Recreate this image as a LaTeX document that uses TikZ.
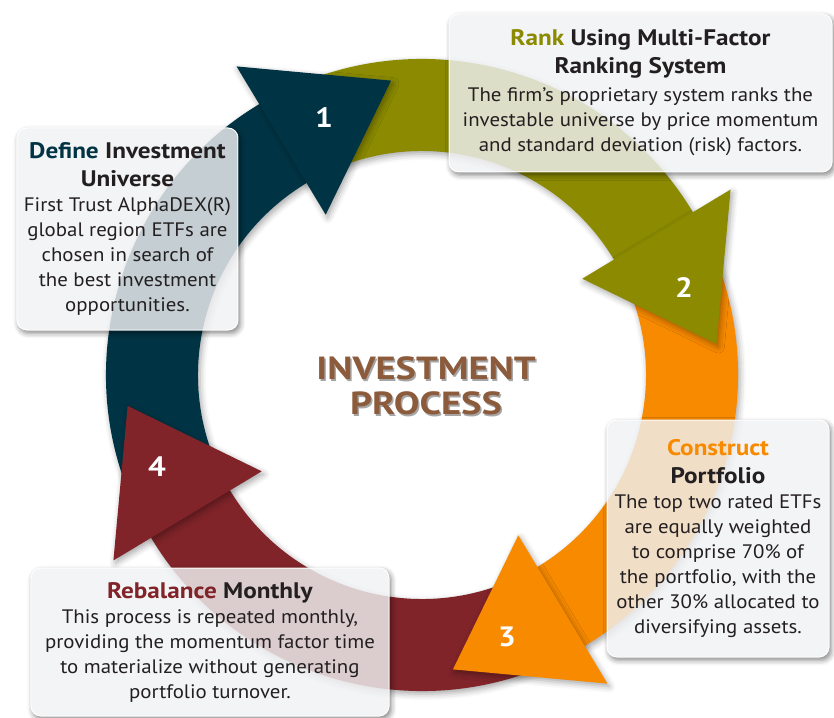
\documentclass[tikz,border=0pt]{standalone}
\usepackage{fontspec}
\setmainfont{PT Sans}[FakeStretch=1.07, BoldFeatures={FakeStretch=1.12}]
\newfontfamily\titlefont{PT Sans}[FakeStretch=1.2]
\usetikzlibrary{shadows.blur}

\definecolor{stepteal}{RGB}{0,52,68}
\definecolor{stepolive}{RGB}{139,138,0}
\definecolor{steporange}{RGB}{248,138,0}
\definecolor{stepmaroon}{RGB}{128,36,41}
\definecolor{titlebrown}{RGB}{140,91,60}
\definecolor{textdark}{RGB}{35,31,32}
\definecolor{boxgray}{RGB}{240,241,243}

\newcommand{\headsize}{\fontsize{22.5}{25}\selectfont}

% ring band: start angle, end angle, colour
\newcommand{\ringband}[3]{%
  \fill[#3, ringshadow] (#1:316) arc[start angle=#1, end angle=#2, radius=316pt]
    -- (#2:224) arc[start angle=#2, end angle=#1, radius=224pt] -- cycle;}
% ring head: base angle, colour
\newcommand{\ringhead}[2]{%
  \fill[#2, ringshadow] (#1:187) -- (#1:360) -- ({#1-25}:296) -- cycle;}
% soft shadow outside a box node
\newcommand{\boxshadow}[1]{%
  \begin{scope}[even odd rule, rounded corners=10pt]
    \clip (-440,-360) rectangle (430,390) (#1.south west) rectangle (#1.north east);
    \path[boxshade] (#1.south west) rectangle (#1.north east);
  \end{scope}}

\begin{document}
\begin{tikzpicture}[
    x=1pt, y=1pt,
    ringshadow/.style={blur shadow={shadow xshift=2pt, shadow yshift=-3pt, shadow blur radius=6pt, shadow opacity=35}},
    boxshade/.style={blur shadow={shadow xshift=2pt, shadow yshift=-3pt, shadow blur radius=5pt, shadow opacity=45}},
    infobox/.style={draw=white, line width=1pt, rounded corners=10pt, fill=boxgray, fill opacity=0.82,
      text opacity=1, text=textdark, align=center, inner sep=0pt, font=\fontsize{19.5}{25}\selectfont},
    numlabel/.style={text=white, font=\fontsize{28}{30}\selectfont\bfseries},
    titletext/.style={align=center, font=\titlefont\fontsize{32}{35}\selectfont\bfseries}
]
\useasboundingbox (-422,-342) rectangle (412,375);

% === RING (bands first, heads on top) ===
\ringband{206}{119}{stepteal}
\ringband{116}{29}{stepolive}
\ringband{26}{-61}{steporange}
\ringband{-64}{-151}{stepmaroon}

\ringhead{121}{stepteal}
\ringhead{31}{stepolive}
\ringhead{-59}{steporange}
\ringhead{-149}{stepmaroon}

% step numbers
\node[numlabel] (num1) at (-98,257) {1};
\node[numlabel] (num2) at (262,87) {2};
\node[numlabel] (num3) at (85,-262) {3};
\node[numlabel] (num4) at (-265,-92) {4};

% === CENTRE TITLE ===
\node[titletext, text=black, opacity=0.35] (titleshadow) at (5.5,-12.5) {INVESTMENT\\PROCESS};
\node[titletext, text=titlebrown] (title) at (4,-11) {INVESTMENT\\PROCESS};

% === STEP BOXES ===
\node[infobox, minimum width=221pt, minimum height=202pt] (define) at (-294.5,146) {%
  \textbf{\headsize\textcolor{stepteal}{Define} Investment}\\[3pt]
  \textbf{\headsize Universe}\\
  First Trust AlphaDEX(R)\\ global region ETFs are\\ chosen in search of\\ the best investment\\ opportunities.};

\node[infobox, minimum width=383pt, minimum height=158pt] (rank) at (218.5,282) {%
  \textbf{\headsize\textcolor{stepolive}{Rank} Using Multi-Factor}\\[3pt]
  \textbf{\headsize Ranking System}\\[3pt]
  The firm’s proprietary system ranks the\\ investable universe by price momentum\\ and standard deviation (risk) factors.};

\node[infobox, minimum width=222pt, minimum height=237pt] (construct) at (296,-163.5) {%
  \textbf{\headsize\textcolor{steporange}{Construct}}\\[3pt]
  \textbf{\headsize Portfolio}\\
  The top two rated ETFs\\ are equally weighted\\ to comprise 70\% of\\ the portfolio, with the\\ other 30\% allocated to\\ diversifying assets.};

\node[infobox, minimum width=358pt, minimum height=148pt] (rebalance) at (-212,-267) {%
  \textbf{\headsize\textcolor{stepmaroon}{Rebalance} Monthly}\\
  This process is repeated monthly,\\ providing the momentum factor time\\ to materialize without generating\\ portfolio turnover.};

% box shadows
\boxshadow{define}
\boxshadow{rank}
\boxshadow{construct}
\boxshadow{rebalance}

\end{tikzpicture}
\end{document}
